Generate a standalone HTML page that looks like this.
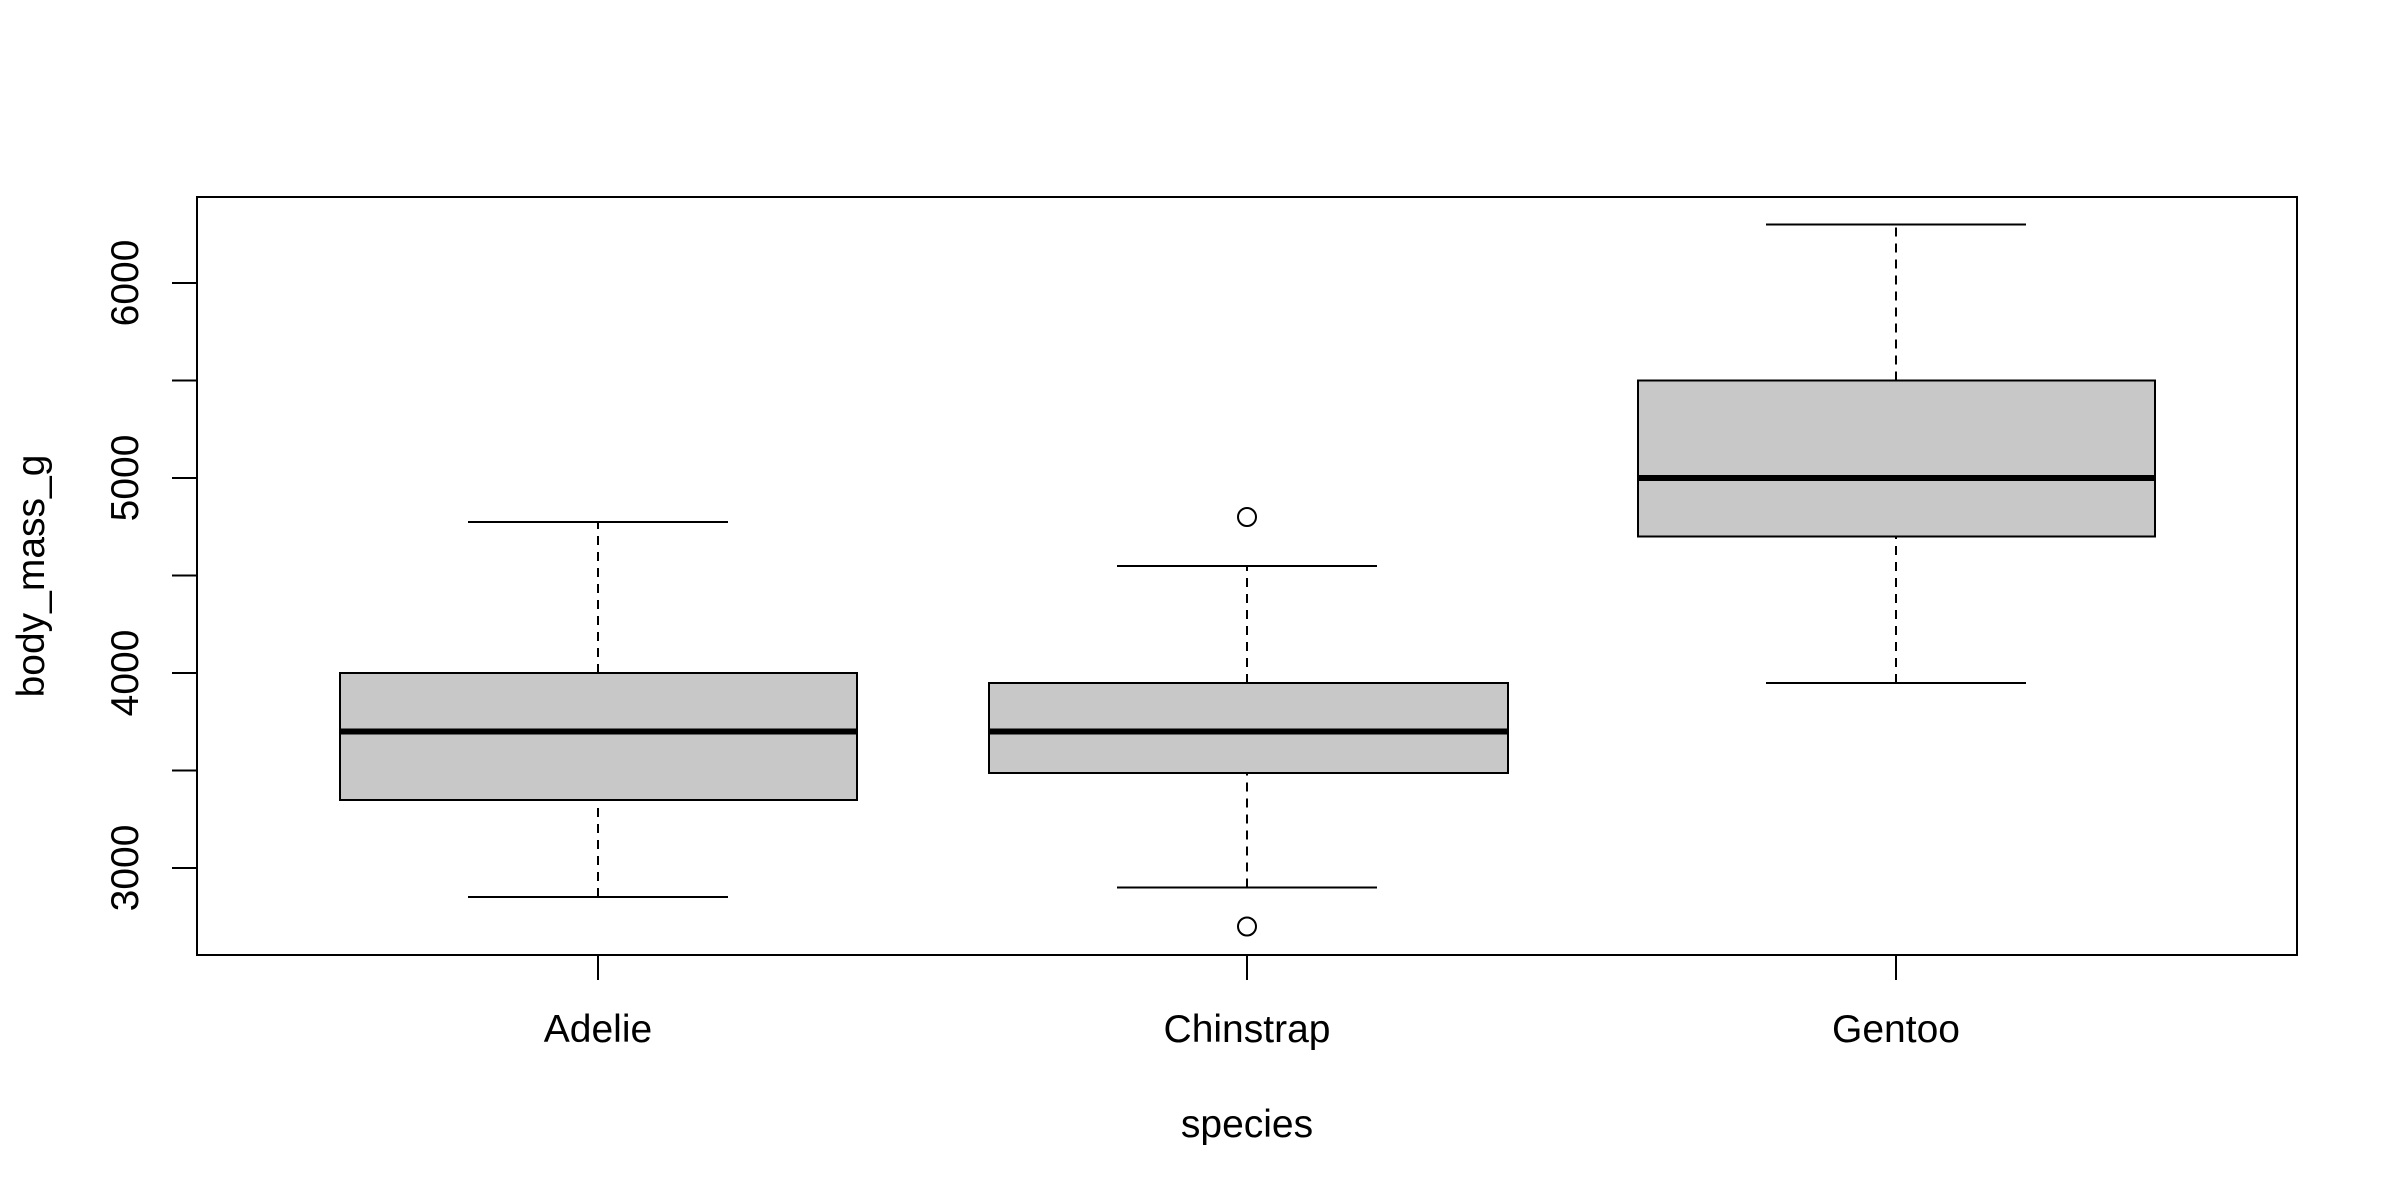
<!DOCTYPE html>
<html><head><meta charset="utf-8"><style>html,body{margin:0;padding:0;background:#fff;}svg{display:block;}</style></head>
<body>
<svg width="2400" height="1200" viewBox="0 0 2400 1200" xmlns="http://www.w3.org/2000/svg" font-family="Liberation Sans, Arial, sans-serif" font-size="39">
<rect width="2400" height="1200" fill="#fff"/>
<g stroke="#000" stroke-width="2" fill="none">
<line x1="598" y1="897" x2="598" y2="800" stroke-dasharray="9,7"/>
<line x1="598" y1="673" x2="598" y2="522" stroke-dasharray="9,7"/>
<line x1="468" y1="897" x2="728" y2="897"/>
<line x1="468" y1="522" x2="728" y2="522"/>
<rect x="340" y="673" width="517" height="127" fill="#c8c8c8"/>
<line x1="340" y1="731.5" x2="857" y2="731.5" stroke-width="6"/>
<line x1="1247" y1="887.5" x2="1247" y2="773" stroke-dasharray="9,7"/>
<line x1="1247" y1="683" x2="1247" y2="566" stroke-dasharray="9,7"/>
<line x1="1117" y1="887.5" x2="1377" y2="887.5"/>
<line x1="1117" y1="566" x2="1377" y2="566"/>
<rect x="989" y="683" width="519" height="90" fill="#c8c8c8"/>
<line x1="989" y1="731.5" x2="1508" y2="731.5" stroke-width="6"/>
<circle cx="1247" cy="926.5" r="9"/>
<circle cx="1247" cy="517" r="9"/>
<line x1="1896" y1="683" x2="1896" y2="536.5" stroke-dasharray="9,7"/>
<line x1="1896" y1="380.5" x2="1896" y2="224.5" stroke-dasharray="9,7"/>
<line x1="1766" y1="683" x2="2026" y2="683"/>
<line x1="1766" y1="224.5" x2="2026" y2="224.5"/>
<rect x="1638" y="380.5" width="517" height="156" fill="#c8c8c8"/>
<line x1="1638" y1="478" x2="2155" y2="478" stroke-width="6"/>
<rect x="197" y="197" width="2100" height="758"/>
<line x1="172" y1="868" x2="197" y2="868"/>
<line x1="172" y1="770.5" x2="197" y2="770.5"/>
<line x1="172" y1="673" x2="197" y2="673"/>
<line x1="172" y1="575.5" x2="197" y2="575.5"/>
<line x1="172" y1="478" x2="197" y2="478"/>
<line x1="172" y1="380.5" x2="197" y2="380.5"/>
<line x1="172" y1="283" x2="197" y2="283"/>
<line x1="598" y1="955" x2="598" y2="980"/>
<line x1="1247" y1="955" x2="1247" y2="980"/>
<line x1="1896" y1="955" x2="1896" y2="980"/>
</g>
<g fill="#000" text-anchor="middle">
<text transform="translate(138,868) rotate(-90)">3000</text>
<text transform="translate(138,673) rotate(-90)">4000</text>
<text transform="translate(138,478) rotate(-90)">5000</text>
<text transform="translate(138,283) rotate(-90)">6000</text>
<text x="598" y="1042">Adelie</text>
<text x="1247" y="1042">Chinstrap</text>
<text x="1896" y="1042">Gentoo</text>
<text x="1247" y="1137">species</text>
<text transform="translate(44,576) rotate(-90)">body_mass_g</text>
</g>
</svg>
</body></html>
